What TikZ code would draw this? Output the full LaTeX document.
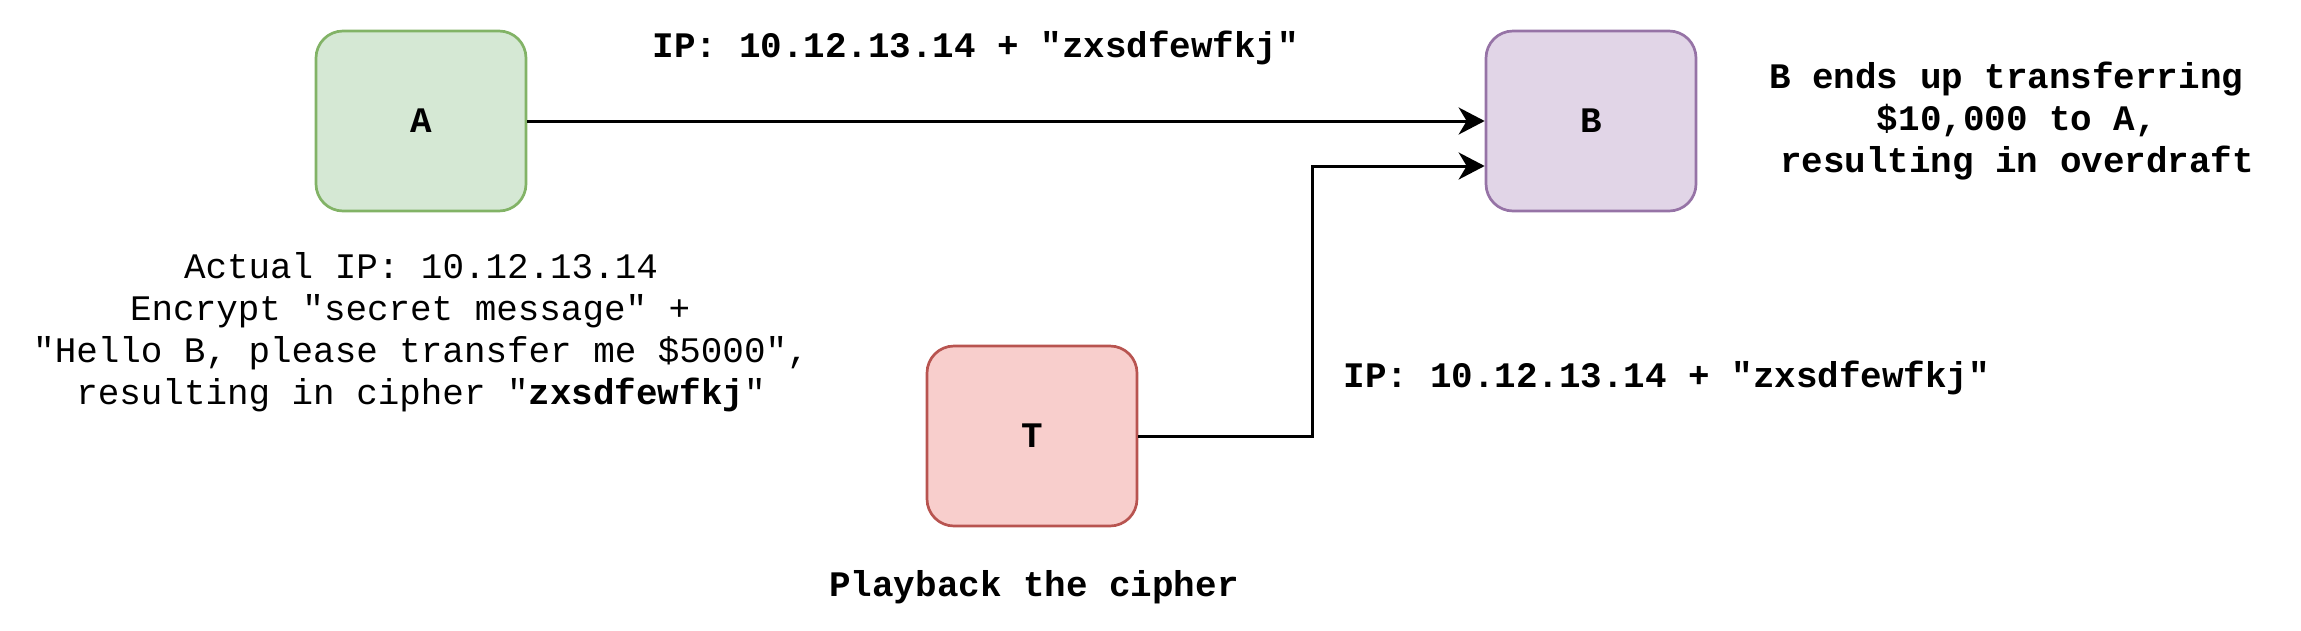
\documentclass[tikz,border=0pt]{standalone}
\usepackage{fontspec}
\setmonofont{Liberation Mono}
\usetikzlibrary{arrows.meta}
\definecolor{fillA}{HTML}{D5E8D4}
\definecolor{drawA}{HTML}{82B366}
\definecolor{fillB}{HTML}{E1D5E7}
\definecolor{drawB}{HTML}{9673A6}
\definecolor{fillT}{HTML}{F8CECC}
\definecolor{drawT}{HTML}{B85450}
\begin{document}
\begin{tikzpicture}[x=1pt,y=-1pt,
  box/.style={draw, line width=2.7pt, rounded corners=27pt, minimum width=210pt, minimum height=180pt, inner sep=0pt, font=\ttfamily\bfseries\fontsize{35.9}{42}\selectfont},
  txt/.style={inner sep=0pt, align=center, font=\ttfamily\fontsize{35.9}{42}\selectfont},
  btxt/.style={inner sep=0pt, align=center, font=\ttfamily\bfseries\fontsize{35.9}{42}\selectfont},
  conn/.style={line width=3pt, -{Stealth[length=26pt,width=27pt,inset=8pt]}}]
\useasboundingbox (0,0) rectangle (2301,630);
\node[box, fill=fillA, draw=drawA] (A) at (421,121) {A};
\node[box, fill=fillB, draw=drawB] (B) at (1591,121) {B};
\node[box, fill=fillT, draw=drawT] (T) at (1032,436) {T};
\draw[conn] (A.east) -- (B.west);
\draw[conn] (T.east) -- ++(174,0) |- ([yshift=-45pt]B.west);
\node[btxt, anchor=base] (ip1) at (976,57) {IP: 10.12.13.14 + "zxsdfewfkj"};
\node[btxt, anchor=base] (ip2) at (1667,387) {IP: 10.12.13.14 + "zxsdfewfkj"};
\node[btxt, anchor=base] (pb) at (1034,596) {Playback the cipher};
\node[txt, anchor=base] (la) at (421,404) {Actual IP: 10.12.13.14\\Encrypt "secret message" +\hphantom{x}\\"Hello B, please transfer me \$5000",\\resulting in cipher "\textbf{zxsdfewfkj}"};
\node[btxt, anchor=base] (lb) at (2017,172) {B ends up transferring\hphantom{x}\\\$10,000 to A,\\resulting in overdraft};
\end{tikzpicture}
\end{document}
